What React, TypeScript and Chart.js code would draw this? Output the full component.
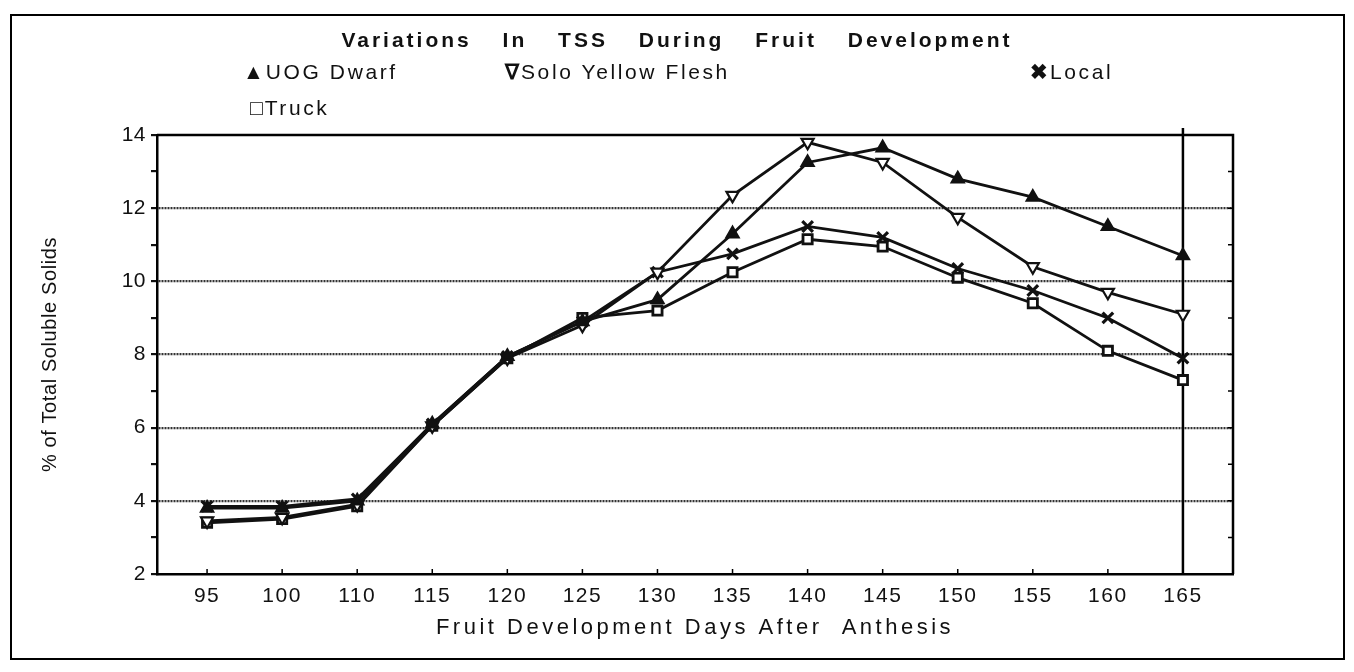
import React, { useEffect, useRef } from 'react';
import { Chart, registerables } from 'chart.js';

Chart.register(...registerables);

// ---- data ----
const days = ['95', '100', '110', '115', '120', '125', '130', '135', '140', '145', '150', '155', '160', '165'];
const uogDwarf = [3.8, 3.8, 4.0, 6.1, 7.95, 8.9, 9.5, 11.3, 13.25, 13.65, 12.8, 12.3, 11.5, 10.7];
const soloYellowFlesh = [3.45, 3.55, 3.9, 6.05, 7.9, 8.8, 10.25, 12.35, 13.8, 13.25, 11.75, 10.4, 9.7, 9.1];
const local = [3.85, 3.85, 4.05, 6.1, 7.95, 8.9, 10.25, 10.75, 11.5, 11.2, 10.35, 9.75, 9.0, 7.9];
const truck = [3.4, 3.5, 3.85, 6.05, 7.9, 9.0, 9.2, 10.25, 11.15, 10.95, 10.1, 9.4, 8.1, 7.3];

const titleText = 'Variations In TSS During Fruit Development';
const xTitle = 'Fruit Development Days After  Anthesis';
const yTitle = '% of Total Soluble Solids';
const yMin = 2;
const yMax = 14;

const FONT = '"Liberation Sans", Arial, Helvetica, sans-serif';

const toPoints = (arr: number[]) => arr.map((v, i) => ({ x: i, y: v }));

function spaced(scale: any, titleSpacing: string, labelSpacing: string) {
  if (scale.__spaced) return;
  scale.__spaced = true;
  const wrap = (name: string, sp: string) => {
    const orig = scale[name];
    scale[name] = function (...args: any[]) {
      const ctx = this.ctx;
      const prev = ctx.letterSpacing;
      ctx.letterSpacing = sp;
      orig.apply(this, args);
      ctx.letterSpacing = prev || '0px';
    };
  };
  wrap('drawTitle', titleSpacing);
  wrap('drawLabels', labelSpacing);
}

const framePlugin = {
  id: 'frame',
  beforeDatasetsDraw(chart: any) {
    const { ctx, chartArea: a, scales } = chart;
    ctx.save();
    ctx.strokeStyle = '#000';
    ctx.lineWidth = 2.5;
    ctx.setLineDash([]);
    ctx.beginPath();
    ctx.moveTo(a.left, a.top);
    ctx.lineTo(a.right, a.top);
    ctx.lineTo(a.right, a.bottom);
    const xl = scales.x.getPixelForValue(days.length - 1);
    ctx.moveTo(xl, a.top - 7);
    ctx.lineTo(xl, a.bottom);
    ctx.stroke();
    ctx.lineWidth = 1.5;
    ctx.beginPath();
    scales.y.ticks.forEach((t: any) => {
      const y = scales.y.getPixelForValue(t.value);
      ctx.moveTo(a.right, y);
      ctx.lineTo(a.right - 5, y);
    });
    days.forEach((_, i) => {
      const x = scales.x.getPixelForValue(i);
      ctx.moveTo(x, a.bottom);
      ctx.lineTo(x, a.bottom - 5);
    });
    ctx.stroke();
    ctx.restore();
  },
};

export default function App() {
  const ref = useRef<HTMLCanvasElement>(null);

  useEffect(() => {
    if (!ref.current) return;
    const common = {
      borderColor: '#111',
      borderWidth: 2.8,
      tension: 0,
      pointBorderColor: '#111',
      pointBorderWidth: 2.2,
    };
    const chart = new Chart(ref.current, {
      type: 'line',
      data: {
        datasets: [
          { ...common, label: 'UOG Dwarf', data: toPoints(uogDwarf), pointStyle: 'triangle', pointRadius: 7, pointBackgroundColor: '#111' },
          { ...common, label: 'Solo Yellow Flesh', data: toPoints(soloYellowFlesh), pointStyle: 'triangle', pointRotation: 180, pointRadius: 7, pointBackgroundColor: '#fff' },
          { ...common, label: 'Local', data: toPoints(local), pointStyle: 'crossRot', pointRadius: 7.5, pointBorderWidth: 3.2 },
          { ...common, label: 'Truck', data: toPoints(truck), pointStyle: 'rect', pointRadius: 6.5, pointBackgroundColor: '#fff', pointBorderWidth: 2.8 },
        ],
      } as any,
      options: {
        animation: false,
        responsive: true,
        maintainAspectRatio: false,
        layout: { padding: { left: 0, top: 127, right: 113, bottom: 0 } },
        plugins: { legend: { display: false }, title: { display: false }, tooltip: { enabled: false } },
        scales: {
          x: {
            type: 'linear',
            min: -0.667,
            max: days.length - 1 + 0.667,
            afterBuildTicks: (scale: any) => {
              scale.ticks = days.map((_, i) => ({ value: i }));
            },
            afterFit: (scale: any) => {
              scale.height = 84;
              spaced(scale, '3.5px', '1.5px');
            },
            ticks: {
              autoSkip: false,
              maxRotation: 0,
              padding: 10,
              color: '#111',
              font: { family: FONT, size: 21 },
              callback: (v: any) => days[Math.round(Number(v))] ?? '',
            },
            grid: { drawOnChartArea: false, drawTicks: false },
            border: { display: true, color: '#000', width: 2.5 },
            title: {
              display: true,
              text: xTitle,
              color: '#111',
              font: { family: FONT, size: 22 },
              padding: { top: 0, bottom: 17 },
            },
          },
          y: {
            min: yMin,
            max: yMax,
            ticks: {
              stepSize: 1,
              padding: 5,
              color: '#111',
              font: { family: FONT, size: 21 },
              callback: (v: any) => (Number(v) % 2 === 0 ? String(v) : ''),
            },
            afterFit: (scale: any) => {
              scale.width = 149;
              spaced(scale, '0.6px', '0.5px');
            },
            grid: {
              color: (c: any) =>
                c.tick && c.tick.value % 2 === 0 && c.tick.value !== yMin && c.tick.value !== yMax ? '#333' : 'rgba(0,0,0,0)',
              tickColor: '#111',
              tickLength: 6,
              lineWidth: 2.2,
            },
            border: { display: true, color: '#000', width: 2.5, dash: [2, 1] },
            title: {
              display: true,
              text: yTitle,
              color: '#111',
              font: { family: FONT, size: 20 },
              padding: { top: 30, bottom: 0 },
            },
          },
        },
      } as any,
      plugins: [framePlugin],
    });
    return () => chart.destroy();
  }, []);

  const legendStyle: React.CSSProperties = {
    position: 'absolute',
    fontFamily: FONT,
    fontSize: 21,
    lineHeight: '24px',
    letterSpacing: '2.6px',
    color: '#111',
    whiteSpace: 'pre',
  };
  const sym: React.CSSProperties = { fontWeight: 'bold', letterSpacing: '0px', marginRight: 2 };

  return (
    <div style={{ position: 'relative', width: 1338, height: 654 }}>
      <div
        style={{
          position: 'absolute',
          left: 2,
          top: 6,
          width: 1335,
          height: 646,
          border: '2px solid #000',
          boxSizing: 'border-box',
          pointerEvents: 'none',
        }}
      />
      <div style={{ position: 'absolute', left: 0, top: 0, width: 1338, height: 650 }}>
        <canvas ref={ref} />
      </div>
      <div
        style={{
          position: 'absolute',
          left: 0,
          top: 20,
          width: 1338,
          textAlign: 'center',
          fontFamily: FONT,
          fontWeight: 'bold',
          fontSize: 21,
          lineHeight: '24px',
          letterSpacing: '3px',
          wordSpacing: '22px',
          color: '#111',
        }}
      >
        {titleText}
      </div>
      <div style={{ ...legendStyle, left: 235, top: 52 }}>
        <span style={sym}>▲</span>UOG Dwarf
      </div>
      <div style={{ ...legendStyle, left: 497, top: 52 }}>
        <span style={sym}>∇</span>Solo Yellow Flesh
      </div>
      <div style={{ ...legendStyle, left: 1022, top: 52 }}>
        <span style={sym}>✖</span>Local
      </div>
      <div style={{ ...legendStyle, left: 242, top: 88 }}>
        <span style={sym}>□</span>Truck
      </div>
    </div>
  );
}
